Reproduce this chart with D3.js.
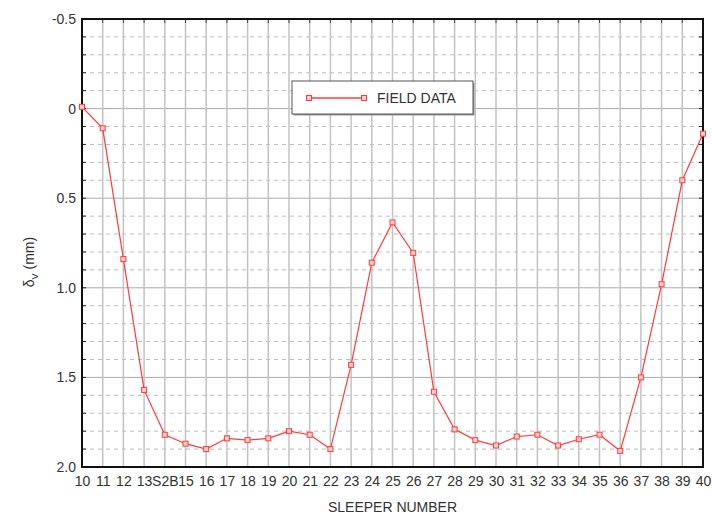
<!DOCTYPE html>
<html>
<head>
<meta charset="utf-8">
<script src="https://cdn.jsdelivr.net/npm/d3@7"></script>
<style>
  body { margin: 0; background: #fff; }
  text { font-family: "Liberation Sans", Arial, sans-serif; fill: #333; }
</style>
</head>
<body>
<div id="vis"></div>
<script>
// sleeper ids and their axis labels (14 is the S2B sleeper)
let sleepers = [10, 11, 12, 13, 14, 15, 16, 17, 18, 19, 20, 21, 22, 23, 24, 25, 26, 27, 28, 29, 30, 31, 32, 33, 34, 35, 36, 37, 38, 39, 40]
let sleeperLabels = ['10', '11', '12', '13', 'S2B', '15', '16', '17', '18', '19', '20', '21', '22', '23', '24', '25', '26', '27', '28', '29', '30', '31', '32', '33', '34', '35', '36', '37', '38', '39', '40']
// vertical deflection, mm
let fieldData = [-0.01, 0.11, 0.84, 1.57, 1.82, 1.87, 1.90, 1.84, 1.85, 1.84, 1.80, 1.82, 1.90, 1.43, 0.86, 0.635, 0.805, 1.58, 1.79,
  1.85, 1.88, 1.83, 1.82, 1.88, 1.845, 1.82, 1.91, 1.50, 0.98, 0.40, 0.14]
let yTicks = [-0.5, 0, 0.5, 1.0, 1.5, 2.0]
let yTickLabels = ['-0.5', '0', '0.5', '1.0', '1.5', '2.0']

let W = 712, H = 518
let margin = { top: 19, left: 82, right: 9, bottom: 51 },
  width = W - margin.left - margin.right,
  height = H - margin.top - margin.bottom

let svg = d3.select('#vis')
  .append('svg')
  .attr('width', W)
  .attr('height', H)

let g = svg.append('g')
  .attr('transform', 'translate(' + margin.left + ',' + margin.top + ')')

let xScale = d3.scaleLinear().domain([10, 40]).range([0, width])
let yScale = d3.scaleLinear().domain([-0.5, 2.0]).range([0, height])

let minor = d3.range(-0.5, 2.0001, 0.1).map(d => Math.round(d * 10) / 10)
let minorOnly = minor.filter(d => yTicks.indexOf(d) < 0)

// minor dashed horizontal grid
g.append('g').selectAll('line')
  .data(minorOnly)
  .enter().append('line')
  .attr('x1', 0).attr('x2', width)
  .attr('y1', d => yScale(d)).attr('y2', d => yScale(d))
  .attr('stroke', '#bbb')
  .attr('stroke-width', 1)
  .attr('stroke-dasharray', '4,4')

// major horizontal grid
g.append('g').selectAll('line')
  .data(yTicks)
  .enter().append('line')
  .attr('x1', 0).attr('x2', width)
  .attr('y1', d => yScale(d)).attr('y2', d => yScale(d))
  .attr('stroke', '#aaa')
  .attr('stroke-width', 1)

// vertical grid
g.append('g').selectAll('line')
  .data(sleepers)
  .enter().append('line')
  .attr('x1', d => xScale(d)).attr('x2', d => xScale(d))
  .attr('y1', 0).attr('y2', height)
  .attr('stroke', '#c2c2c2')
  .attr('stroke-width', 1.5)

// inner minor ticks on left and right
let tickG = g.append('g')
tickG.selectAll('.tl')
  .data(minor)
  .enter().append('line')
  .attr('x1', 0).attr('x2', 4)
  .attr('y1', d => yScale(d)).attr('y2', d => yScale(d))
  .attr('stroke', '#222')
tickG.selectAll('.tr')
  .data(minor)
  .enter().append('line')
  .attr('x1', width - 4).attr('x2', width)
  .attr('y1', d => yScale(d)).attr('y2', d => yScale(d))
  .attr('stroke', '#222')
tickG.selectAll('.tt')
  .data(sleepers)
  .enter().append('line')
  .attr('x1', d => xScale(d)).attr('x2', d => xScale(d))
  .attr('y1', 0).attr('y2', 4)
  .attr('stroke', '#444')

// frame
g.append('rect')
  .attr('width', width).attr('height', height)
  .attr('fill', 'none')
  .attr('stroke', '#111')
  .attr('stroke-width', 2)

// y axis labels
let yAxis = d3.axisLeft(yScale)
  .tickValues(yTicks)
  .tickSize(0)
  .tickPadding(6)
  .tickFormat((d, i) => yTickLabels[i])
let ya = g.append('g').call(yAxis)
ya.select('.domain').remove()
ya.selectAll('text').style('font-size', '14px').attr('fill', '#333')

// x axis labels
let xAxis = d3.axisBottom(xScale)
  .tickValues(sleepers)
  .tickSize(0)
  .tickPadding(9)
  .tickFormat((d, i) => sleeperLabels[i])
let xa = g.append('g')
  .attr('transform', 'translate(0,' + height + ')')
  .call(xAxis)
xa.select('.domain').remove()
xa.selectAll('text').style('font-size', '14px').attr('fill', '#333')

// line
let line = d3.line()
  .x((d, i) => xScale(sleepers[i]))
  .y(d => yScale(d))

g.append('path')
  .datum(fieldData)
  .attr('fill', 'none')
  .attr('stroke', '#ff3b3b')
  .attr('stroke-width', 1.2)
  .attr('d', line)

g.selectAll('.pt')
  .data(fieldData)
  .enter().append('rect')
  .attr('x', (d, i) => xScale(sleepers[i]) - 2.5)
  .attr('y', d => yScale(d) - 2.5)
  .attr('width', 5).attr('height', 5)
  .attr('fill', '#ffd0d0')
  .attr('stroke', '#ff3b3b')
  .attr('stroke-width', 1)

// legend
let leg = svg.append('g').attr('transform', 'translate(292,81)')
leg.append('rect')
  .attr('x', 1.5).attr('y', 1.5)
  .attr('width', 181).attr('height', 33)
  .attr('fill', '#999')
leg.append('rect')
  .attr('width', 181).attr('height', 33)
  .attr('fill', '#fff')
  .attr('stroke', '#555')
  .attr('stroke-width', 1)
leg.append('path')
  .attr('d', 'M17,17H72')
  .attr('stroke', '#ff3b3b')
  .attr('stroke-width', 1.5)
leg.selectAll('.lm')
  .data([17, 72])
  .enter().append('rect')
  .attr('x', d => d - 2.5).attr('y', 14.5)
  .attr('width', 5).attr('height', 5)
  .attr('fill', '#ffd0d0')
  .attr('stroke', '#ff3b3b')
leg.append('text')
  .attr('x', 85).attr('y', 22)
  .style('font-size', '14px')
  .text('FIELD DATA')

// axis titles
svg.append('text')
  .attr('x', margin.left + width / 2)
  .attr('y', 512)
  .attr('text-anchor', 'middle')
  .style('font-size', '14px')
  .text('SLEEPER NUMBER')

let yt = svg.append('text')
  .attr('transform', 'translate(34,262) rotate(-90)')
  .attr('text-anchor', 'middle')
  .style('font-size', '14px')
yt.append('tspan').text('δ')
yt.append('tspan').attr('dy', 4).style('font-size', '9px').text('V')
yt.append('tspan').attr('dy', -4).text(' (mm)')
</script>
</body>
</html>
